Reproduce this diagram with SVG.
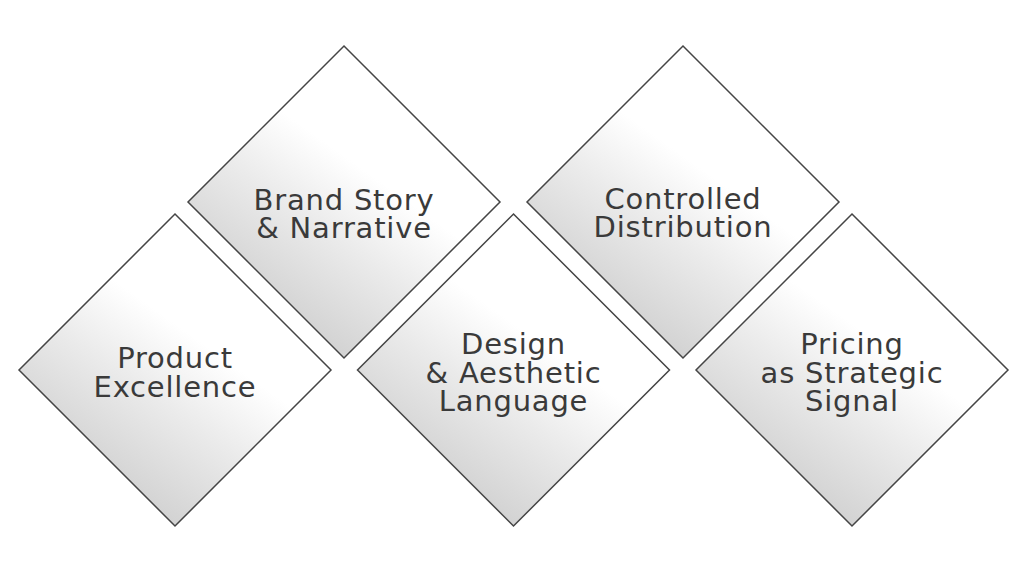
<svg xmlns="http://www.w3.org/2000/svg" width="1024" height="581" viewBox="0 0 1024 581">
<defs>
<linearGradient id="g" x1="0.3" y1="0.85" x2="0.68" y2="0.32">
<stop offset="0" stop-color="#d3d3d3"/>
<stop offset="0.45" stop-color="#ebebeb"/>
<stop offset="0.8" stop-color="#ffffff"/>
<stop offset="1" stop-color="#ffffff"/>
</linearGradient>
<style>
.d{fill:url(#g);stroke:#454545;stroke-width:1.5;stroke-linejoin:miter}
.t{font-family:"DejaVu Sans","Noto Sans",sans-serif;font-size:29px;letter-spacing:0.8px;fill:#3a3a3a;text-anchor:middle}
</style>
</defs>
<rect width="1024" height="581" fill="#ffffff"/>
<g id="connectors"/>
<g id="product">
<polygon class="d" points="175,214 331,370 175,526 19,370"/>
<text class="t" x="175" y="368">Product</text>
<text class="t" x="175" y="397">Excellence</text>
</g>
<g id="brand">
<polygon class="d" points="344,46 500,202 344,358 188,202"/>
<text class="t" x="344" y="210">Brand Story</text>
<text class="t" x="344" y="238">&amp; Narrative</text>
</g>
<g id="design">
<polygon class="d" points="513.5,214 669.5,370 513.5,526 357.5,370"/>
<text class="t" x="513.5" y="354">Design</text>
<text class="t" x="513.5" y="383">&amp; Aesthetic</text>
<text class="t" x="513.5" y="411">Language</text>
</g>
<g id="distribution">
<polygon class="d" points="683,46 839,202 683,358 527,202"/>
<text class="t" x="683" y="209">Controlled</text>
<text class="t" x="683" y="237">Distribution</text>
</g>
<g id="pricing">
<polygon class="d" points="852,214 1008,370 852,526 696,370"/>
<text class="t" x="852" y="354">Pricing</text>
<text class="t" x="852" y="383">as Strategic</text>
<text class="t" x="852" y="411">Signal</text>
</g>
</svg>
